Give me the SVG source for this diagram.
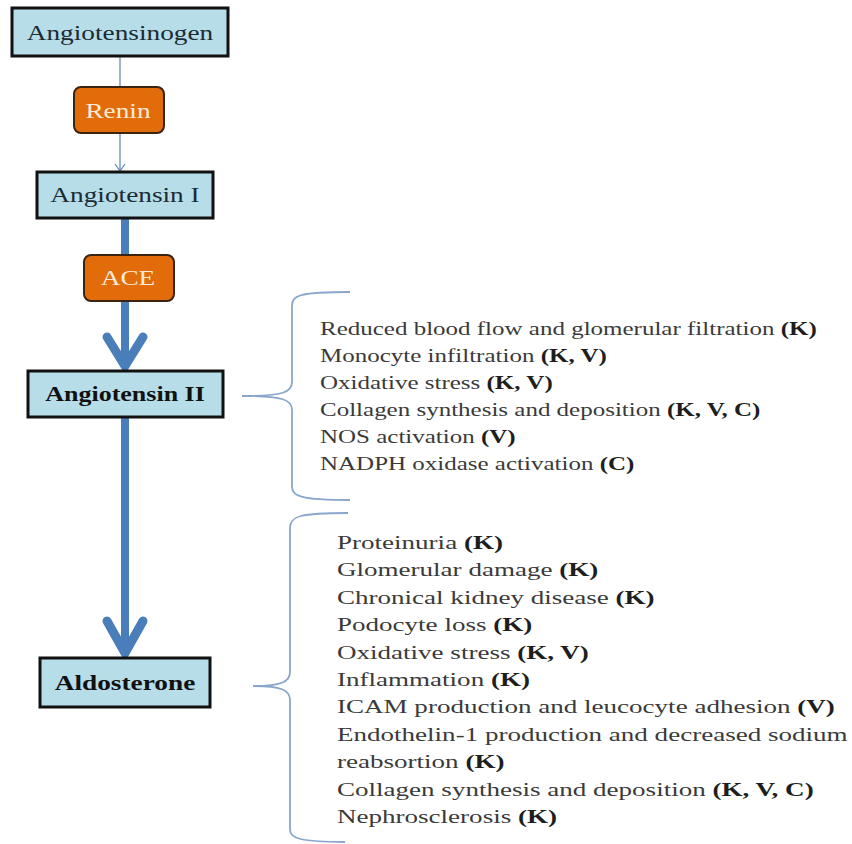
<svg xmlns="http://www.w3.org/2000/svg" width="852" height="844" viewBox="0 0 852 844">
<style>
.box{fill:#b7dde8;stroke:#111;stroke-width:3}
.enz{fill:#e36c0a;stroke:#3a2310;stroke-width:2}
.lbl{font-family:"Liberation Serif","Times New Roman",serif;font-size:21px;fill:#1b2b33;text-anchor:middle}
.blbl{font-family:"Liberation Serif","Times New Roman",serif;font-size:21px;font-weight:bold;fill:#111;text-anchor:middle}
.elbl{font-family:"Liberation Serif","Times New Roman",serif;font-size:21px;fill:#fdebd8;text-anchor:middle}
.list{font-family:"Liberation Serif","Times New Roman",serif;fill:#3a3a3a}
.list tspan.b{font-weight:bold;fill:#1e1e1e}
.thin{stroke:#5a84bb;stroke-width:1.2;fill:none}
.thick{stroke:#4a7ebb;stroke-width:8;fill:none}
.head{stroke:#4a7ebb;stroke-width:9;fill:none;stroke-linecap:round;stroke-linejoin:miter}
.brace{stroke:#8aa6cc;stroke-width:1.8;fill:none}
</style>
<rect width="852" height="844" fill="#fff"/>
<g id="connectors">
<line class="thin" x1="120" y1="56" x2="120" y2="171"/>
<polyline class="thin" points="115,164 120,171 125,164"/>
<line class="thick" x1="125" y1="218" x2="125" y2="364"/>
<polyline class="head" points="107,337 125,366 143,337"/>
<line class="thick" x1="125" y1="417" x2="125" y2="652"/>
<polyline class="head" points="107,621 125,653 143,621"/>
</g>
<g id="angiotensinogen">
<rect class="box" x="12" y="8" width="216" height="48"/>
<text class="lbl" transform="translate(120,40) scale(1.3,1)">Angiotensinogen</text>
</g>
<g id="renin">
<rect class="enz" x="74" y="87" width="90" height="46" rx="7"/>
<text class="elbl" transform="translate(118,118) scale(1.3,1)">Renin</text>
</g>
<g id="angiotensin-i">
<rect class="box" x="37" y="172" width="176" height="46"/>
<text class="lbl" transform="translate(125,202) scale(1.3,1)">Angiotensin I</text>
</g>
<g id="ace">
<rect class="enz" x="84" y="255" width="90" height="46" rx="7"/>
<text class="elbl" transform="translate(128,285) scale(1.3,1)">ACE</text>
</g>
<g id="angiotensin-ii">
<rect class="box" x="28" y="371" width="195" height="46"/>
<text class="blbl" style="font-size:20px" transform="translate(125,401) scale(1.3,1)">Angiotensin II</text>
</g>
<g id="aldosterone">
<rect class="box" x="40" y="658" width="170" height="49"/>
<text class="blbl" transform="translate(125,690) scale(1.3,1)">Aldosterone</text>
</g>
<g id="brace-angiotensin-ii">
<path class="brace" d="M350,292 C300,292 292,295 292,306 L292,382 C292,392 284,396 242,396 C284,396 292,400 292,410 L292,487 C292,496 300,500 350,500"/>
<g class="list" style="font-size:19px" transform="translate(320,0) scale(1.316,1)">
<text x="0" y="335">Reduced blood flow and glomerular filtration <tspan class="b">(K)</tspan></text>
<text x="0" y="362">Monocyte infiltration <tspan class="b">(K, V)</tspan></text>
<text x="0" y="389">Oxidative stress <tspan class="b">(K, V)</tspan></text>
<text x="0" y="416">Collagen synthesis and deposition <tspan class="b">(K, V, C)</tspan></text>
<text x="0" y="443">NOS activation <tspan class="b">(V)</tspan></text>
<text x="0" y="470">NADPH oxidase activation <tspan class="b">(C)</tspan></text>
</g>
</g>
<g id="brace-aldosterone">
<path class="brace" d="M348,513 C300,513 290,516 290,528 L290,672 C290,682 281,686 253,686 C281,686 290,690 290,700 L290,830 C290,838 300,842 345,842"/>
<g class="list" style="font-size:19.6px" transform="translate(337,0) scale(1.38,1)">
<text x="0" y="549">Proteinuria <tspan class="b">(K)</tspan></text>
<text x="0" y="576.4">Glomerular damage <tspan class="b">(K)</tspan></text>
<text x="0" y="603.8">Chronical kidney disease <tspan class="b">(K)</tspan></text>
<text x="0" y="631.2">Podocyte loss <tspan class="b">(K)</tspan></text>
<text x="0" y="658.6">Oxidative stress <tspan class="b">(K, V)</tspan></text>
<text x="0" y="686">Inflammation <tspan class="b">(K)</tspan></text>
<text x="0" y="713.4">ICAM production and leucocyte adhesion <tspan class="b">(V)</tspan></text>
<text x="0" y="740.8">Endothelin-1 production and decreased sodium</text>
<text x="0" y="768.2">reabsortion <tspan class="b">(K)</tspan></text>
<text x="0" y="795.6">Collagen synthesis and deposition <tspan class="b">(K, V, C)</tspan></text>
<text x="0" y="823">Nephrosclerosis <tspan class="b">(K)</tspan></text>
</g>
</g>
</svg>
